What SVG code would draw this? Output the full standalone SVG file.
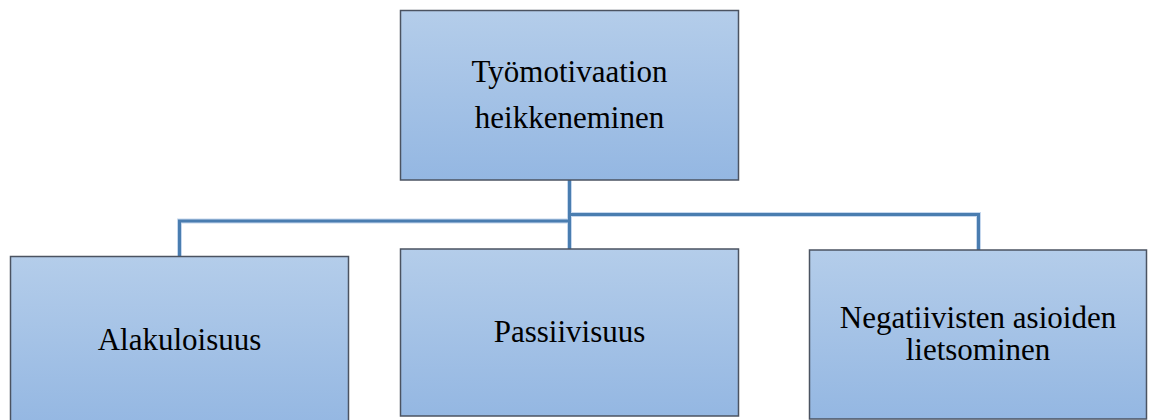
<svg xmlns="http://www.w3.org/2000/svg" width="1152" height="420" viewBox="0 0 1152 420">
  <defs>
    <linearGradient id="boxFill" x1="0" y1="0" x2="0" y2="1">
      <stop offset="0" stop-color="#b4cdea"/>
      <stop offset="1" stop-color="#94b7e2"/>
    </linearGradient>
    <style>
      .box { fill: url(#boxFill); stroke: #4b5361; stroke-width: 1.5; }
      .lbl { font-family: "Liberation Serif", "Times New Roman", serif; font-size: 31px; fill: #000; text-anchor: middle; }
      .halo { fill: none; stroke: #c6d8ee; stroke-width: 5; }
      .conn { fill: none; stroke: #4a7db0; stroke-width: 3; }
    </style>
  </defs>
  <rect width="1152" height="420" fill="#ffffff"/>
  <g id="connectors">
    <path class="halo" d="M569.5 180 V249 M569.5 221 H179.5 V257 M569.5 214.5 H978.5 V250"/>
    <path class="conn" d="M569.5 180 V249 M569.5 221 H179.5 V257 M569.5 214.5 H978.5 V250"/>
  </g>
  <g id="node-top">
    <rect class="box" x="400.5" y="10.5" width="338" height="169.5"/>
    <text class="lbl" x="569.5" y="82">Työmotivaation</text>
    <text class="lbl" x="569.5" y="128">heikkeneminen</text>
  </g>
  <g id="node-alakuloisuus">
    <rect class="box" x="10.5" y="256.5" width="338" height="170"/>
    <text class="lbl" x="179.5" y="350">Alakuloisuus</text>
  </g>
  <g id="node-passiivisuus">
    <rect class="box" x="400.5" y="249" width="338" height="167"/>
    <text class="lbl" x="569.5" y="342">Passiivisuus</text>
  </g>
  <g id="node-negatiivisten">
    <rect class="box" x="809.5" y="250" width="337" height="169"/>
    <text class="lbl" x="978" y="328">Negatiivisten asioiden</text>
    <text class="lbl" x="978" y="360">lietsominen</text>
  </g>
</svg>
